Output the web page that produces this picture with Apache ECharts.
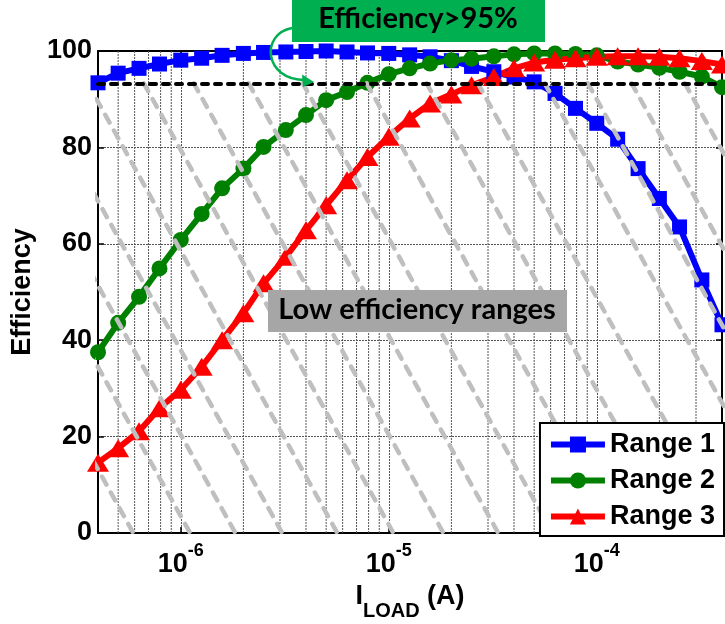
<!DOCTYPE html>
<html>
<head>
<meta charset="utf-8">
<script src="https://cdn.jsdelivr.net/npm/echarts@6/dist/echarts.min.js"></script>
<style>
  html, body { margin: 0; padding: 0; background: #fff; }
  #chart { width: 725px; height: 624px; }
</style>
</head>
<body>
<div id="chart"></div>
<script>
// load current (A), 10 points per decade
const loadCurrent = [4e-7, 5e-7, 6.3e-7, 7.9e-7, 1e-6, 1.26e-6, 1.58e-6, 2e-6, 2.5e-6, 3.2e-6,
  4e-6, 5e-6, 6.3e-6, 7.9e-6, 1e-5, 1.26e-5, 1.58e-5, 2e-5, 2.5e-5, 3.2e-5,
  4e-5, 5e-5, 6.3e-5, 7.9e-5, 1e-4, 1.26e-4, 1.58e-4, 2e-4, 2.5e-4, 3.2e-4, 4e-4];

const range1 = [93.4, 95.4, 96.4, 97.3, 98.1, 98.5, 99.1, 99.5, 99.7, 99.8,
  99.9, 100, 99.8, 99.6, 99.5, 99.2, 98.8, 98.0, 96.8, 95.7,
  94.6, 93.6, 91.2, 88.1, 85.0, 81.7, 75.6, 69.4, 63.5, 52.5, 43.2];
const range2 = [37.5, 43.6, 49.0, 54.9, 60.8, 66.2, 71.5, 75.6, 80.1, 83.6,
  86.7, 89.8, 91.5, 93.4, 95.2, 96.4, 97.4, 98.1, 98.4, 98.9,
  99.3, 99.5, 99.5, 99.4, 99.1, 97.8, 97.2, 96.5, 95.7, 94.7, 92.5];
const range3 = [14.6, 17.6, 21.1, 25.9, 29.7, 34.5, 40.0, 45.6, 51.8, 57.3,
  62.8, 68.0, 73.2, 78.0, 82.2, 86.0, 89.1, 91.0, 92.9, 94.6,
  96.4, 97.6, 98.2, 98.5, 98.8, 98.9, 98.9, 98.8, 98.5, 97.9, 97.2];

const seriesNames = ['Range 1', 'Range 2', 'Range 3'];
const minorGridX = [5e-7, 6e-7, 7e-7, 8e-7, 9e-7,
  2e-6, 3e-6, 4e-6, 5e-6, 6e-6, 7e-6, 8e-6, 9e-6,
  2e-5, 3e-5, 4e-5, 5e-5, 6e-5, 7e-5, 8e-5, 9e-5,
  2e-4, 3e-4];
const threshold = 93.3;
// hatch lines: current where each dashed line leaves the threshold line
const hatchStart = [3.73e-8, 7.0e-8, 1.155e-7, 1.94e-7, 3.57e-7, 6.64e-7, 1.155e-6, 2.12e-6,
  3.86e-6, 7.83e-6, 1.52e-5, 2.68e-5, 5.62e-5, 9.06e-5, 1.47e-4, 2.65e-4];
const hatchDecades = 1.2; // each hatch line drops to 0 over this many decades

const axisFont = 'Liberation Sans, Arial, sans-serif';
const boxFont = 'Lato, Open Sans, sans-serif';
const gridLine = { color: '#555', width: 1, type: [2, 1] };

const chart = echarts.init(document.getElementById('chart'));

const frameAxis = {
  axisLine: { show: true, onZero: false, lineStyle: { color: '#000', width: 2 } },
  axisTick: { show: true, inside: true, length: 6, lineStyle: { color: '#000', width: 1.5 } },
};

const dataSeries = [
  { name: 'Range 1', values: range1, color: '#0000ff', symbol: 'rect', size: 15 },
  { name: 'Range 2', values: range2, color: '#008000', symbol: 'circle', size: 16 },
  { name: 'Range 3', values: range3, color: '#ff0000', symbol: 'triangle', size: [22, 18] },
].map((s) => ({
  name: s.name,
  type: 'line',
  data: loadCurrent.map((x, i) => [x, s.values[i]]),
  symbol: s.symbol,
  symbolSize: s.size,
  lineStyle: { color: s.color, width: 6 },
  itemStyle: { color: s.color },
  z: 2,
}));

const minorGridSeries = minorGridX.map((x) => ({
  type: 'line',
  data: [[x, 0], [x, 100]],
  symbol: 'none',
  silent: true,
  lineStyle: gridLine,
  z: 1,
}));

const hatchSeries = hatchStart.map((x) => ({
  type: 'line',
  data: [[x, threshold], [x * Math.pow(10, hatchDecades), 0]],
  symbol: 'none',
  silent: true,
  clip: true,
  lineStyle: { color: '#bfbfbf', width: 4.5, type: [9, 9], cap: 'round' },
  z: 3,
}));

chart.setOption({
  animation: false,
  backgroundColor: '#fff',
  grid: { left: 98, right: 3, top: 51, height: 482, outerBoundsMode: 'none' },
  legend: {
    data: seriesNames,
    orient: 'vertical',
    right: 1,
    bottom: 88,
    itemWidth: 54,
    itemHeight: 20,
    itemGap: 9,
    padding: [8, 9, 6, 8],
    backgroundColor: '#fff',
    borderColor: '#000',
    borderWidth: 2,
    borderRadius: 0,
    selectedMode: false,
    lineStyle: { width: 6 },
    textStyle: { fontSize: 27, fontWeight: 'bold', color: '#000', fontFamily: axisFont },
  },
  xAxis: [
    {
      type: 'log',
      logBase: 10,
      min: 4e-7,
      max: 4e-4,
      position: 'bottom',
      ...frameAxis,
      splitLine: { show: true, lineStyle: gridLine },
      axisLabel: {
        showMinLabel: true,
        showMaxLabel: true,
        margin: 9,
        fontSize: 26,
        fontWeight: 'bold',
        color: '#000',
        fontFamily: axisFont,
        formatter: (v) => {
          const l = Math.log10(v);
          if (Math.abs(l - Math.round(l)) > 0.01) return '';
          return '{b|10}{e|' + Math.round(l) + '}';
        },
        rich: {
          b: { fontSize: 27, fontWeight: 'bold', color: '#000', fontFamily: axisFont, verticalAlign: 'bottom' },
          e: { fontSize: 18, fontWeight: 'bold', color: '#000', fontFamily: axisFont, verticalAlign: 'top', padding: [0, 0, 18, 0] },
        },
      },
      name: '{a|I}{s|LOAD}{a| (A)}',
      nameLocation: 'middle',
      nameGap: 46,
      nameTextStyle: {
        rich: {
          a: { fontSize: 27, fontWeight: 'bold', color: '#000', fontFamily: axisFont, verticalAlign: 'top' },
          s: { fontSize: 20, fontWeight: 'bold', color: '#000', fontFamily: axisFont, verticalAlign: 'bottom', padding: [19, 0, 0, 0] },
        },
      },
    },
    {
      type: 'log',
      logBase: 10,
      min: 4e-7,
      max: 4e-4,
      position: 'top',
      ...frameAxis,
      splitLine: { show: false },
      axisLabel: { show: false },
    },
  ],
  yAxis: [
    {
      type: 'value',
      min: 0,
      max: 100,
      interval: 20,
      position: 'left',
      ...frameAxis,
      splitLine: { show: true, lineStyle: gridLine },
      axisLabel: { color: '#000', fontSize: 27, fontWeight: 'bold', fontFamily: axisFont, margin: 6 },
      name: 'Efficiency',
      nameLocation: 'middle',
      nameGap: 62,
      nameTextStyle: { color: '#000', fontSize: 27, fontWeight: 'bold', fontFamily: axisFont },
    },
    {
      type: 'value',
      min: 0,
      max: 100,
      interval: 20,
      position: 'right',
      ...frameAxis,
      splitLine: { show: false },
      axisLabel: { show: false },
    },
  ],
  series: [
    ...minorGridSeries,
    ...dataSeries,
    ...hatchSeries,
    {
      type: 'line',
      data: [],
      silent: true,
      z: 4,
      markLine: {
        silent: true,
        symbol: ['none', 'none'],
        label: { show: false },
        lineStyle: { color: '#000', width: 4, type: [6, 7], cap: 'round' },
        data: [{ yAxis: threshold }],
      },
    },
  ],
  graphic: [
    { type: 'rect', z: 100, shape: { x: 292, y: 0, width: 253, height: 42 }, style: { fill: '#00b050' } },
    { type: 'text', z: 101, x: 418, y: 19, style: { text: 'Efficiency>95%', fontFamily: boxFont, fontWeight: 'bold', fontSize: 29, fill: '#000', align: 'center', verticalAlign: 'middle' } },
    { type: 'rect', z: 100, shape: { x: 268, y: 290, width: 299, height: 42 }, style: { fill: '#a6a6a6' } },
    { type: 'text', z: 101, x: 417, y: 310, style: { text: 'Low efficiency ranges', fontFamily: boxFont, fontWeight: 'bold', fontSize: 29, fill: '#000', align: 'center', verticalAlign: 'middle' } },
    { type: 'bezierCurve', z: 100, shape: { x1: 292, y1: 28, cpx1: 260, cpy1: 34, cpx2: 264, cpy2: 80, x2: 305, y2: 80 }, style: { stroke: '#00b050', lineWidth: 2.5, fill: null } },
    { type: 'polygon', z: 100, shape: { points: [[314, 82], [302, 74.5], [303, 87]] }, style: { fill: '#00b050' } },
  ],
});

window.addEventListener('resize', () => chart.resize());
</script>
</body>
</html>
